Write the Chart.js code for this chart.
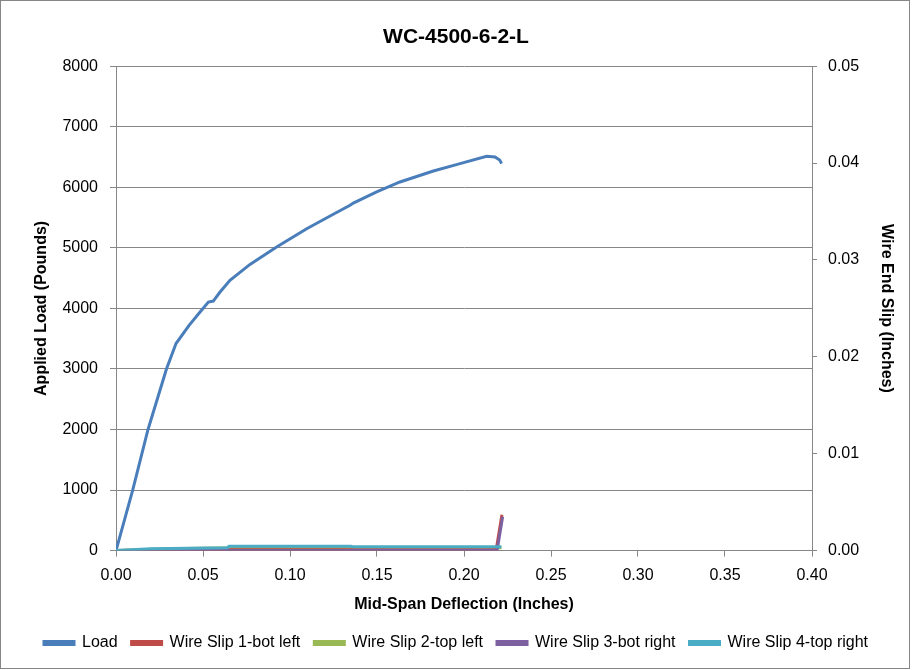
<!DOCTYPE html>
<html>
<head>
<meta charset="utf-8">
<script src="https://cdn.jsdelivr.net/npm/chart.js@4.4.0/dist/chart.umd.min.js"></script>
<style>
  html, body { margin: 0; padding: 0; background: #fff; }
  #wrap { position: relative; width: 912px; height: 670px; }
  #frame { position: absolute; left: 0; top: 0; width: 908px; height: 667px; border: 1px solid #868686; pointer-events: none; }
</style>
</head>
<body>
<div id="wrap">
  <canvas id="chart" width="912" height="670"></canvas>
  <div id="frame"></div>
</div>
<script>
// Mid-span deflection (in) vs applied load (lb)
var loadX = [0, 0.0096, 0.0184, 0.029, 0.0345, 0.042, 0.0483, 0.0531, 0.0559, 0.0598, 0.0655, 0.077, 0.0923, 0.1096, 0.1249, 0.1345, 0.1364, 0.1498, 0.1632, 0.1824, 0.1977, 0.2130, 0.2178, 0.2205, 0.2216];
var loadY = [0, 1000, 2000, 3000, 3420, 3720, 3940, 4105, 4121, 4270, 4463, 4727, 5014, 5316, 5554, 5702, 5740, 5923, 6088, 6270, 6391, 6512, 6501, 6450, 6391];

// Wire end slip (in), right axis
var slip1X = [0, 0.05, 0.15, 0.2185, 0.2218];
var slip1Y = [0, 0.0001, 0.0001, 0.0001, 0.0037];
var slip2X = [0, 0.03, 0.07, 0.15, 0.2215];
var slip2Y = [0, 0.0002, 0.0003, 0.0003, 0.0003];
var slip3X = [0, 0.10, 0.219, 0.2222];
var slip3Y = [0, 0, 0, 0.0035];
var slip4X = [0, 0.02, 0.064, 0.065, 0.135, 0.136, 0.2215];
var slip4Y = [0, 0.0002, 0.0003, 0.00045, 0.00045, 0.0004, 0.0004];

var xTicks = [0, 0.05, 0.10, 0.15, 0.20, 0.25, 0.30, 0.35, 0.40];

function pts(xs, ys) {
    var out = [];
    for (var i = 0; i < xs.length; i++) {
        out.push({x: xs[i], y: ys[i]});
    }
    return out;
}

function series(label, data, color, axis, order) {
    return {
        label: label,
        data: data,
        yAxisID: axis,
        borderColor: color,
        backgroundColor: color,
        borderWidth: 3,
        pointRadius: 0,
        showLine: true,
        fill: false,
        tension: 0,
        order: order
    };
}

var FONT = '"Liberation Sans", Arial, sans-serif';
var GRID = '#878787';

new Chart(document.getElementById('chart'), {
    type: 'scatter',
    data: {
        datasets: [
            series('Load', pts(loadX, loadY), '#4a7ebb', 'y', 4),
            series('Wire Slip 1-bot left', pts(slip1X, slip1Y), '#be4b48', 'y2', 2),
            series('Wire Slip 2-top left', pts(slip2X, slip2Y), '#98b954', 'y2', 3),
            series('Wire Slip 3-bot right', pts(slip3X, slip3Y), '#7d60a0', 'y2', 1),
            series('Wire Slip 4-top right', pts(slip4X, slip4Y), '#4bacc6', 'y2', 0)
        ]
    },
    options: {
        responsive: false,
        animation: false,
        layout: { padding: { left: 0, right: 0, top: 0, bottom: 9 } },
        plugins: {
            title: {
                display: true,
                text: 'WC-4500-6-2-L',
                color: '#000',
                font: { family: FONT, size: 21, weight: 'bold' },
                padding: { top: 25, bottom: 16 }
            },
            legend: {
                position: 'bottom',
                labels: {
                    color: '#000',
                    font: { family: FONT, size: 16 },
                    boxWidth: 30,
                    boxHeight: 3,
                    padding: 14,
                    sort: function (a, b) { return a.datasetIndex - b.datasetIndex; }
                }
            },
            tooltip: { enabled: false }
        },
        scales: {
            x: {
                type: 'linear',
                min: 0,
                max: 0.4,
                afterBuildTicks: function (axis) {
                    axis.ticks = xTicks.map(function (v) { return {value: v}; });
                },
                ticks: {
                    color: '#000',
                    font: { family: FONT, size: 16 },
                    padding: 9,
                    callback: function (v) { return v.toFixed(2); }
                },
                grid: { display: true, drawOnChartArea: false, drawTicks: true, tickLength: 6, color: GRID },
                border: { color: GRID, width: 1 },
                title: {
                    display: true,
                    text: 'Mid-Span Deflection (Inches)',
                    color: '#000',
                    font: { family: FONT, size: 16, weight: 'bold' },
                    padding: { top: 1, bottom: 7 }
                }
            },
            y: {
                position: 'left',
                min: 0,
                max: 8000,
                ticks: {
                    stepSize: 1000,
                    color: '#000',
                    font: { family: FONT, size: 16 },
                    padding: 12,
                    callback: function (v) { return String(v); }
                },
                grid: { color: GRID, tickLength: 6, lineWidth: 1 },
                border: { color: GRID },
                title: {
                    display: true,
                    text: 'Applied Load (Pounds)',
                    color: '#000',
                    font: { family: FONT, size: 16, weight: 'bold' },
                    padding: { top: 32, bottom: 4 }
                },
                afterFit: function (axis) { axis.width = 116; }
            },
            y2: {
                position: 'right',
                min: 0,
                max: 0.05,
                ticks: {
                    stepSize: 0.01,
                    color: '#000',
                    font: { family: FONT, size: 16 },
                    padding: 11,
                    callback: function (v) { return v.toFixed(2); }
                },
                grid: { drawOnChartArea: false, color: GRID, tickLength: 5 },
                border: { color: GRID },
                title: {
                    display: true,
                    text: 'Wire End Slip (Inches)',
                    color: '#000',
                    font: { family: FONT, size: 16, weight: 'bold' },
                    padding: { top: 16, bottom: 0 }
                },
                afterFit: function (axis) { axis.width = 100; }
            }
        }
    }
});
</script>
</body>
</html>
